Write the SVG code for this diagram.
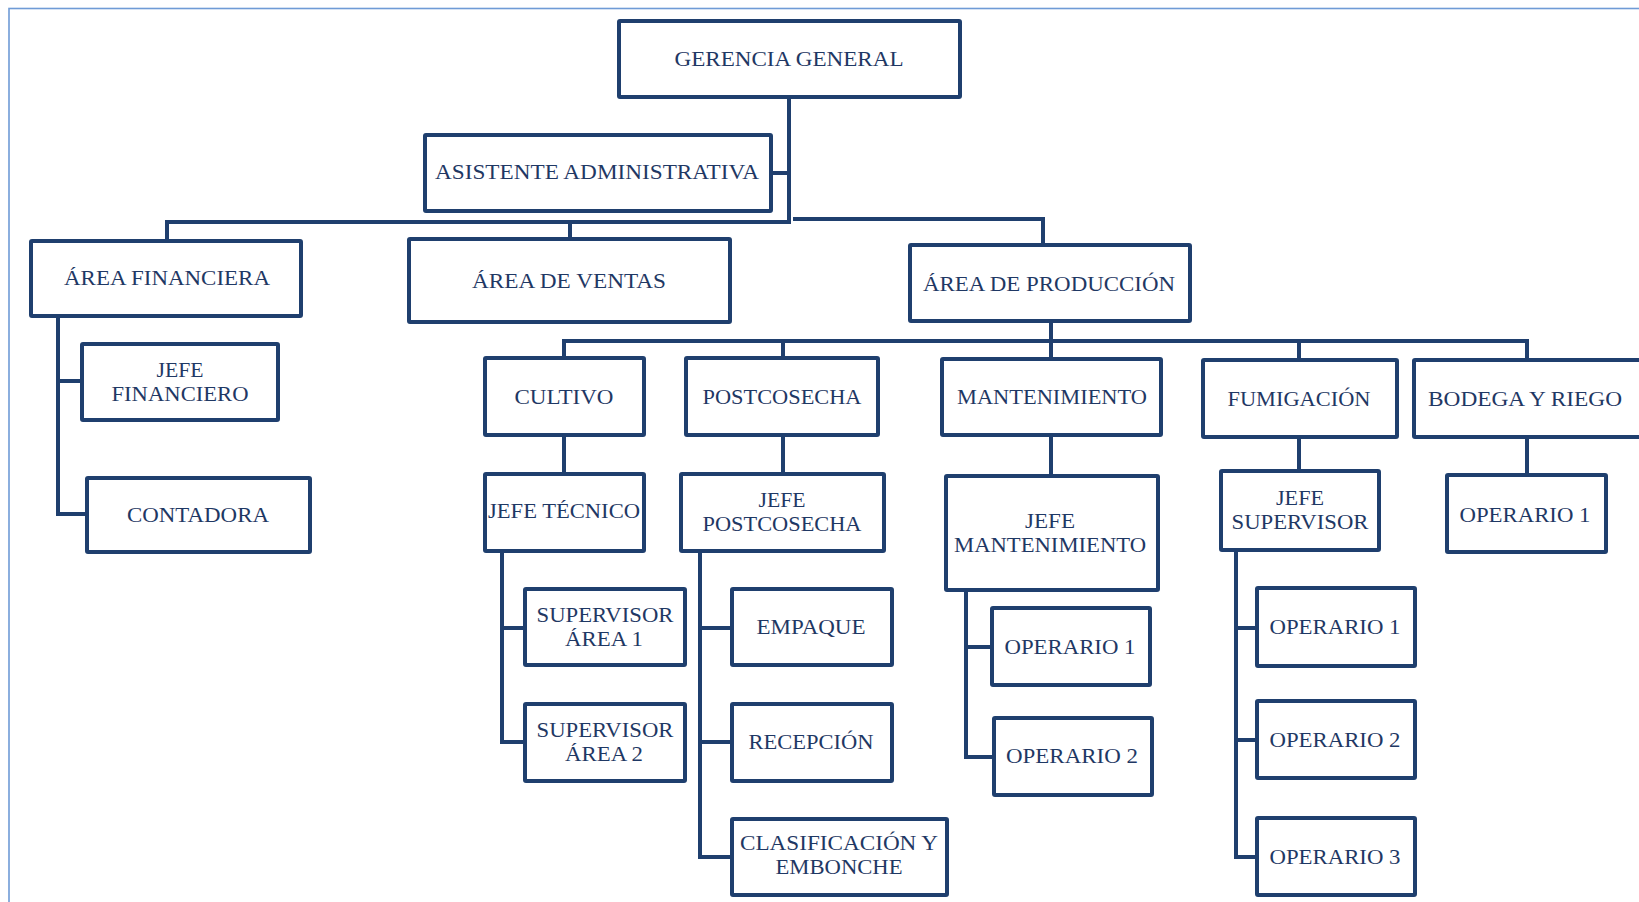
<svg xmlns="http://www.w3.org/2000/svg" width="1639" height="902" viewBox="0 0 1639 902">
<style>
.frame{fill:none;stroke:#6f9bd6;stroke-width:1.6}
.box{fill:#ffffff;stroke:#1f3f6e;stroke-width:4;rx:1}
.con{fill:none;stroke:#1f3f6e;stroke-width:4;stroke-linejoin:miter;stroke-linecap:square}
text{font-family:"Liberation Serif","Times New Roman",serif;font-size:21px;fill:#1f3864;text-anchor:middle}
</style>
<rect width="1639" height="902" fill="#ffffff"/>
<rect class="frame" x="9" y="8.5" width="1700" height="1000"/>
<g id="connectors">
<path class="con" d="M789,101 V222 H167 V237"/>
<path class="con" d="M775,173 H789"/>
<path class="con" d="M570,222 V235"/>
<path class="con" d="M795,219 H1043 V241"/>
<path class="con" d="M58,320 V514 H83"/>
<path class="con" d="M58,381 H78"/>
<path class="con" d="M1051,325 V341"/>
<path class="con" d="M564,354 V341 H1527 V356"/>
<path class="con" d="M783,341 V354"/>
<path class="con" d="M1051,341 V355"/>
<path class="con" d="M1299,341 V356"/>
<path class="con" d="M564,439 V470"/>
<path class="con" d="M783,439 V470"/>
<path class="con" d="M1051,439 V472"/>
<path class="con" d="M1299,441 V467"/>
<path class="con" d="M1527,441 V471"/>
<path class="con" d="M502,555 V742 H521"/>
<path class="con" d="M502,628 H521"/>
<path class="con" d="M700,555 V857 H728"/>
<path class="con" d="M700,628 H728"/>
<path class="con" d="M700,742 H728"/>
<path class="con" d="M966,594 V757 H990"/>
<path class="con" d="M966,647 H988"/>
<path class="con" d="M1236,554 V857 H1253"/>
<path class="con" d="M1236,628 H1253"/>
<path class="con" d="M1236,740 H1253"/>
</g>
<g id="gerencia"><rect class="box" x="619" y="21" width="341" height="76"/><text x="789" y="66" textLength="229" lengthAdjust="spacingAndGlyphs">GERENCIA GENERAL</text></g>
<g id="asistente"><rect class="box" x="425" y="135" width="346" height="76"/><text x="597" y="179" textLength="324" lengthAdjust="spacingAndGlyphs">ASISTENTE ADMINISTRATIVA</text></g>
<g id="area-financiera"><rect class="box" x="31" y="241" width="270" height="75"/><text x="167" y="285" textLength="206" lengthAdjust="spacingAndGlyphs">ÁREA FINANCIERA</text></g>
<g id="area-ventas"><rect class="box" x="409" y="239" width="321" height="83"/><text x="569" y="288" textLength="194" lengthAdjust="spacingAndGlyphs">ÁREA DE VENTAS</text></g>
<g id="area-produccion"><rect class="box" x="910" y="245" width="280" height="76"/><text x="1049" y="291" textLength="252" lengthAdjust="spacingAndGlyphs">ÁREA DE PRODUCCIÓN</text></g>
<g id="jefe-financiero"><rect class="box" x="82" y="344" width="196" height="76"/><text x="180" y="377" textLength="47" lengthAdjust="spacingAndGlyphs">JEFE</text><text x="180" y="401" textLength="137" lengthAdjust="spacingAndGlyphs">FINANCIERO</text></g>
<g id="contadora"><rect class="box" x="87" y="478" width="223" height="74"/><text x="198" y="522" textLength="142" lengthAdjust="spacingAndGlyphs">CONTADORA</text></g>
<g id="cultivo"><rect class="box" x="485" y="358" width="159" height="77"/><text x="564" y="404" textLength="99" lengthAdjust="spacingAndGlyphs">CULTIVO</text></g>
<g id="postcosecha"><rect class="box" x="686" y="358" width="192" height="77"/><text x="782" y="404" textLength="159" lengthAdjust="spacingAndGlyphs">POSTCOSECHA</text></g>
<g id="mantenimiento"><rect class="box" x="942" y="359" width="219" height="76"/><text x="1052" y="404" textLength="190" lengthAdjust="spacingAndGlyphs">MANTENIMIENTO</text></g>
<g id="fumigacion"><rect class="box" x="1203" y="360" width="194" height="77"/><text x="1299" y="406" textLength="143" lengthAdjust="spacingAndGlyphs">FUMIGACIÓN</text></g>
<g id="bodega-riego"><rect class="box" x="1414" y="360" width="229" height="77"/><text x="1525" y="406" textLength="194" lengthAdjust="spacingAndGlyphs">BODEGA Y RIEGO</text></g>
<g id="jefe-tecnico"><rect class="box" x="485" y="474" width="159" height="77"/><text x="564" y="518" textLength="152" lengthAdjust="spacingAndGlyphs">JEFE TÉCNICO</text></g>
<g id="jefe-postcosecha"><rect class="box" x="681" y="474" width="203" height="77"/><text x="782" y="507" textLength="47" lengthAdjust="spacingAndGlyphs">JEFE</text><text x="782" y="531" textLength="159" lengthAdjust="spacingAndGlyphs">POSTCOSECHA</text></g>
<g id="jefe-mantenimiento"><rect class="box" x="946" y="476" width="212" height="114"/><text x="1050" y="528" textLength="50" lengthAdjust="spacingAndGlyphs">JEFE</text><text x="1050" y="552" textLength="192" lengthAdjust="spacingAndGlyphs">MANTENIMIENTO</text></g>
<g id="jefe-supervisor"><rect class="box" x="1221" y="471" width="158" height="79"/><text x="1300" y="505" textLength="48" lengthAdjust="spacingAndGlyphs">JEFE</text><text x="1300" y="529" textLength="137" lengthAdjust="spacingAndGlyphs">SUPERVISOR</text></g>
<g id="operario1-bodega"><rect class="box" x="1447" y="475" width="159" height="77"/><text x="1525" y="522" textLength="131" lengthAdjust="spacingAndGlyphs">OPERARIO 1</text></g>
<g id="supervisor-area1"><rect class="box" x="525" y="589" width="160" height="76"/><text x="605" y="622" textLength="137" lengthAdjust="spacingAndGlyphs">SUPERVISOR</text><text x="604" y="646" textLength="78" lengthAdjust="spacingAndGlyphs">ÁREA 1</text></g>
<g id="supervisor-area2"><rect class="box" x="525" y="704" width="160" height="77"/><text x="605" y="737" textLength="137" lengthAdjust="spacingAndGlyphs">SUPERVISOR</text><text x="604" y="761" textLength="78" lengthAdjust="spacingAndGlyphs">ÁREA 2</text></g>
<g id="empaque"><rect class="box" x="732" y="589" width="160" height="76"/><text x="811" y="634" textLength="109" lengthAdjust="spacingAndGlyphs">EMPAQUE</text></g>
<g id="recepcion"><rect class="box" x="732" y="704" width="160" height="77"/><text x="811" y="749" textLength="125" lengthAdjust="spacingAndGlyphs">RECEPCIÓN</text></g>
<g id="clasificacion"><rect class="box" x="732" y="819" width="215" height="76"/><text x="839" y="850" textLength="198" lengthAdjust="spacingAndGlyphs">CLASIFICACIÓN Y</text><text x="839" y="874" textLength="127" lengthAdjust="spacingAndGlyphs">EMBONCHE</text></g>
<g id="operario1-mant"><rect class="box" x="992" y="608" width="158" height="77"/><text x="1070" y="654" textLength="131" lengthAdjust="spacingAndGlyphs">OPERARIO 1</text></g>
<g id="operario2-mant"><rect class="box" x="994" y="718" width="158" height="77"/><text x="1072" y="763" textLength="132" lengthAdjust="spacingAndGlyphs">OPERARIO 2</text></g>
<g id="operario1-fum"><rect class="box" x="1257" y="588" width="158" height="78"/><text x="1335" y="634" textLength="131" lengthAdjust="spacingAndGlyphs">OPERARIO 1</text></g>
<g id="operario2-fum"><rect class="box" x="1257" y="701" width="158" height="77"/><text x="1335" y="747" textLength="131" lengthAdjust="spacingAndGlyphs">OPERARIO 2</text></g>
<g id="operario3-fum"><rect class="box" x="1257" y="818" width="158" height="77"/><text x="1335" y="864" textLength="131" lengthAdjust="spacingAndGlyphs">OPERARIO 3</text></g>
</svg>
